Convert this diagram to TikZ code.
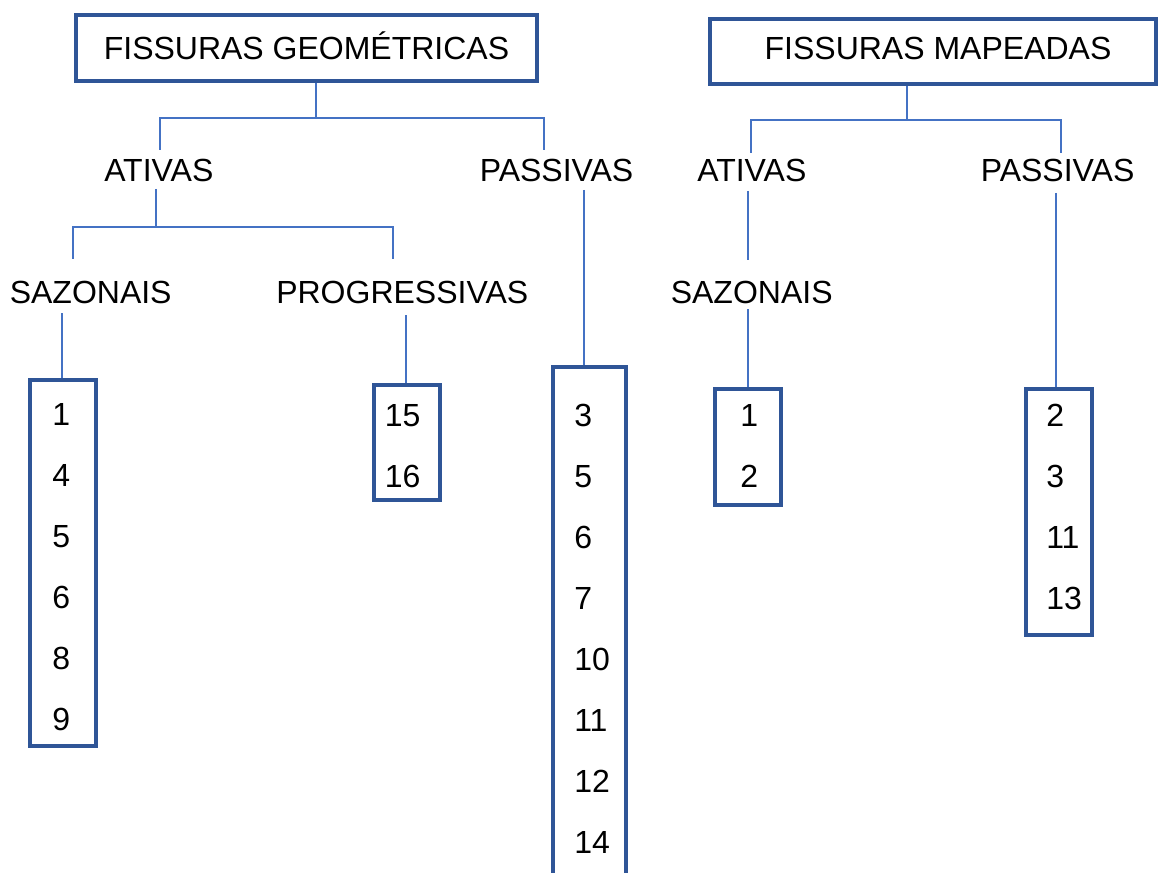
\documentclass[tikz,border=0pt]{standalone}
\usepackage{fontspec}
\setmainfont{Liberation Sans}
\definecolor{boxblue}{RGB}{47,85,151}
\definecolor{lineblue}{RGB}{68,114,196}
\begin{document}
\begin{tikzpicture}[x=0.75pt,y=-0.75pt,
  txt/.style={inner sep=0pt,anchor=base west,font=\fontsize{24pt}{28pt}\selectfont},
  numbox/.style={draw=boxblue,line width=3pt,rectangle,inner sep=0pt},
  titlebox/.style={draw=boxblue,line width=3pt,rectangle,inner sep=0pt,
    font=\fontsize{24pt}{28pt}\selectfont},
  conn/.style={draw=lineblue,line width=1.1pt}]
\clip (0,0) rectangle (1162,873);
\fill[white] (0,0) rectangle (1162,873);

% title boxes
\node[titlebox,minimum width=461*0.75pt,minimum height=66*0.75pt,
  text height=18pt,text depth=0pt] (boxG) at (306.5,48) {FISSURAS GEOMÉTRICAS};
\node[titlebox,minimum width=446*0.75pt,minimum height=65*0.75pt,
  text height=17.2pt,text depth=4.45pt] (boxM) at (933,51.5) {\hspace*{7.5pt}FISSURAS MAPEADAS};

% labels
\node[txt] (ativasL) at (104,182) {ATIVAS};
\node[txt] (passivasL) at (479.5,182) {PASSIVAS};
\node[txt] (sazL) at (9.5,303) {SAZONAIS};
\node[txt] (progL) at (276,303) {PROGRESSIVAS};
\node[txt] (ativasR) at (697,182) {ATIVAS};
\node[txt] (passivasR) at (980.5,182) {PASSIVAS};
\node[txt] (sazR) at (670.5,304) {SAZONAIS};

% number boxes
\node[numbox,minimum width=66*0.75pt,minimum height=366*0.75pt] (bSL) at (63,563) {};
\node[numbox,minimum width=66*0.75pt,minimum height=115*0.75pt] (bPG) at (407,442.5) {};
\node[numbox,minimum width=73*0.75pt,minimum height=533*0.75pt] (bPL) at (589.5,633.5) {};
\node[numbox,minimum width=66*0.75pt,minimum height=116*0.75pt] (bAR) at (748,447) {};
\node[numbox,minimum width=66*0.75pt,minimum height=246*0.75pt] (bPR) at (1059,512) {};

% numbers
\foreach \n [count=\i from 0] in {1,4,5,6,8,9}
  \node[txt] (sl\i) at (52,425.5+61*\i) {\n};
\foreach \n [count=\i from 0] in {15,16}
  \node[txt] (pg\i) at (384.5,426+61*\i) {\n};
\foreach \n [count=\i from 0] in {3,5,6,7,10,11,12,14}
  \node[txt] (pl\i) at (574,426+61*\i) {\n};
\foreach \n [count=\i from 0] in {1,2}
  \node[txt] (ar\i) at (740,426+61*\i) {\n};
\foreach \n [count=\i from 0] in {2,3,11,13}
  \node[txt] (pr\i) at (1046,426+61*\i) {\n};

% junction coordinates
\coordinate (jG) at (316,118);
\coordinate (eAL) at (160,150);
\coordinate (ePL) at (544,150);
\coordinate (sAL) at (156,189);
\coordinate (jAL) at (156,227);
\coordinate (eSL) at (73,259);
\coordinate (ePG) at (393,259);
\coordinate (sSL) at (62,313);
\coordinate (sPG) at (406,315);
\coordinate (sPL) at (584,190);
\coordinate (jM) at (907,120);
\coordinate (eAR) at (751,153);
\coordinate (ePR) at (1061,153);
\coordinate (sAR) at (748,191);
\coordinate (eSR) at (748,260);
\coordinate (sSR) at (748,309);
\coordinate (sPR) at (1056,193);

% connectors
\draw[conn] (jG |- boxG.south) -- (jG);
\draw[conn] (eAL) |- (jG) -| (ePL);
\draw[conn] (sAL) -- (jAL);
\draw[conn] (eSL) |- (jAL) -| (ePG);
\draw[conn] (sSL) -- (sSL |- bSL.north);
\draw[conn] (sPG) -- (sPG |- bPG.north);
\draw[conn] (sPL) -- (sPL |- bPL.north);
\draw[conn] (jM |- boxM.south) -- (jM);
\draw[conn] (eAR) |- (jM) -| (ePR);
\draw[conn] (sAR) -- (eSR);
\draw[conn] (sSR) -- (sSR |- bAR.north);
\draw[conn] (sPR) -- (sPR |- bPR.north);
\end{tikzpicture}
\end{document}
